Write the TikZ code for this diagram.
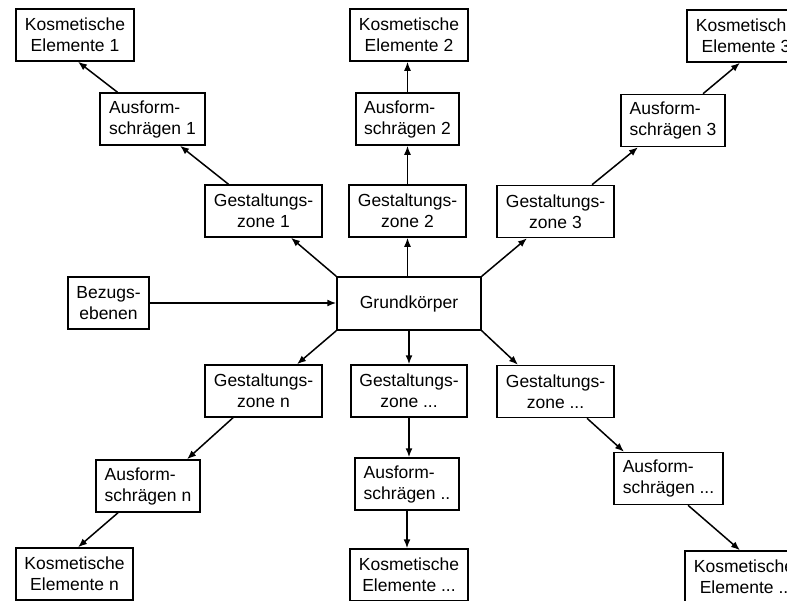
\documentclass[tikz,border=0pt]{standalone}
\usepackage{fontspec}
\setmainfont{Liberation Sans}
\usetikzlibrary{arrows.meta}
\begin{document}
\begin{tikzpicture}[x=1pt,y=-1pt,
  box/.style={draw,line width=1.5pt,rectangle,minimum height=52pt,inner sep=2pt,align=center,
    font=\fontsize{17.5}{21}\selectfont},
  kbox/.style={box,minimum width=118pt},
  abox/.style={box,minimum width=104pt,align=left},
  zbox/.style={box,minimum width=117pt},
  arr/.style={line width=1.5pt,-{Latex[length=9pt,width=7pt]}}]
\useasboundingbox (0,0) rectangle (787,600);
\clip (0,0) rectangle (787,600);
\fill[white] (0,0) rectangle (787,600);
% upper branches
\node[kbox] (K1) at (75,35) {Kosmetische\\Elemente 1};
\node[abox,minimum width=105pt] (A1) at (152.5,119) {Ausform-\\schrägen 1};
\node[zbox] (G1) at (263.5,211) {Gestaltungs-\\zone 1};
\node[kbox] (K2) at (409,35) {Kosmetische\\Elemente 2};
\node[abox,minimum width=103pt] (A2) at (407.5,119) {Ausform-\\schrägen 2};
\node[zbox] (G2) at (407.5,211) {Gestaltungs-\\zone 2};
\node[kbox] (K3) at (746,36) {Kosmetische\\Elemente 3};
\node[abox] (A3) at (673,120.5) {Ausform-\\schrägen 3};
\node[zbox] (G3) at (555.5,211.5) {Gestaltungs-\\zone 3};
% centre row
\node[box,minimum width=81pt] (B) at (108.5,303) {Bezugs-\\ebenen};
\node[box,minimum width=144pt,minimum height=53pt] (GK) at (409,303.5) {Grundkörper};
% lower branches
\node[zbox] (Gn) at (263.5,391) {Gestaltungs-\\zone n};
\node[abox] (An) at (148,486) {Ausform-\\schrägen n};
\node[kbox,minimum width=117pt] (Kn) at (74.5,574) {Kosmetische\\Elemente n};
\node[zbox,minimum width=116pt] (Gm) at (409,391) {Gestaltungs-\\zone ...};
\node[abox] (Am) at (407,484) {Ausform-\\schrägen ..};
\node[kbox] (Km) at (409,575) {Kosmetische\\Elemente ...};
\node[zbox] (Gr) at (555.5,391.5) {Gestaltungs-\\zone ...};
\node[abox,minimum width=109pt] (Ar) at (668.5,478.5) {Ausform-\\schrägen ...};
\node[kbox] (Kr) at (744,577) {Kosmetische\\Elemente ..};
% connectors up-left
\draw[arr] (GK.north west) -- ([xshift=27.5pt]G1.south);
\draw[arr] ([xshift=-35pt]G1.north) -- ([xshift=27.5pt]A1.south);
\draw[arr] ([xshift=-35pt]A1.north) -- ([xshift=3pt]K1.south);
% up
\draw[arr] (G2.south |- GK.north) -- (G2.south);
\draw[arr] (G2.north) -- (A2.south);
\draw[arr] (A2.north) -- (A2.north |- K2.south);
% up-right
\draw[arr] (GK.north east) -- ([xshift=-28.5pt]G3.south);
\draw[arr] ([xshift=36.5pt]G3.north) -- ([xshift=-35pt]A3.south);
\draw[arr] ([xshift=30pt]A3.north) -- ([xshift=-6pt]K3.south);
% left
\draw[arr] (B.east) -- (GK.west |- B.east);
% down-left
\draw[arr] (GK.south west) -- ([xshift=33.5pt]Gn.north);
\draw[arr] ([xshift=-30.5pt]Gn.south) -- ([xshift=39pt]An.north);
\draw[arr] ([xshift=-30pt]An.south) -- ([xshift=3.5pt]Kn.north);
% down
\draw[arr] (GK.south) -- (Gm.north);
\draw[arr] (Gm.south) -- (Gm.south |- Am.north);
\draw[arr] (Am.south) -- (Am.south |- Km.north);
% down-right
\draw[arr] (GK.south east) -- ([xshift=-37.5pt]Gr.north);
\draw[arr] ([xshift=31.5pt]Gr.south) -- ([xshift=-44.5pt]Ar.north);
\draw[arr] ([xshift=19.5pt]Ar.south) -- ([xshift=-4pt]Kr.north);
\end{tikzpicture}
\end{document}
